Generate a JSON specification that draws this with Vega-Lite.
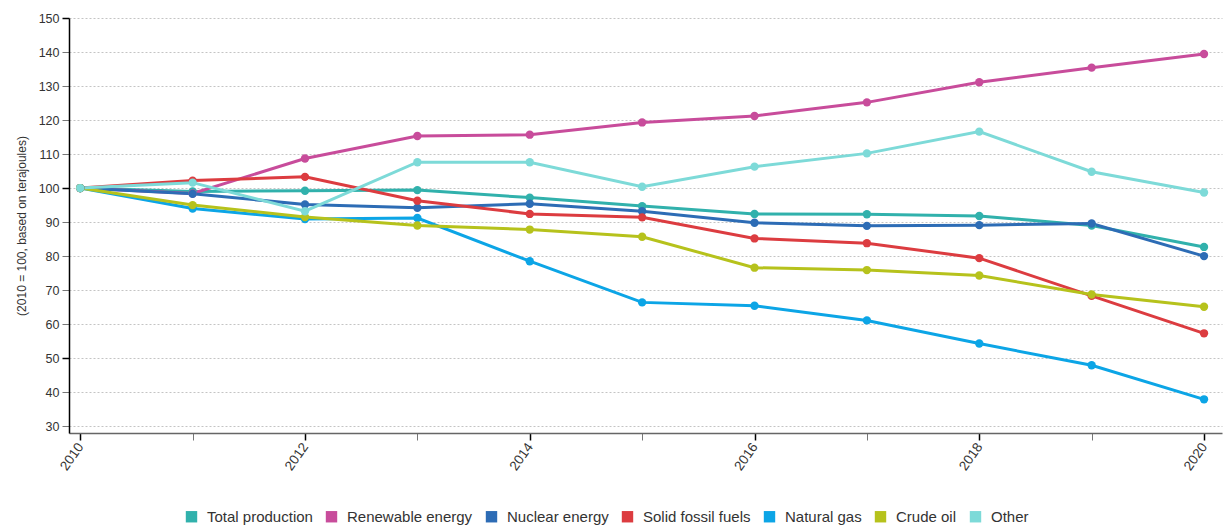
{
  "$schema": "https://vega.github.io/schema/vega-lite/v6.json",
  "width": 1153,
  "height": 415,
  "autosize": {"type": "none"},
  "padding": {"left": 69, "top": 18, "right": 3, "bottom": 94},
  "background": "white",
  "config": {
    "font": "Liberation Sans",
    "view": {"stroke": null}
  },
  "data": {
    "values": [
      {"year": 2010, "series": "Total production", "value": 100},
      {"year": 2011, "series": "Total production", "value": 99.0},
      {"year": 2012, "series": "Total production", "value": 99.2},
      {"year": 2013, "series": "Total production", "value": 99.4},
      {"year": 2014, "series": "Total production", "value": 97.2},
      {"year": 2015, "series": "Total production", "value": 94.7},
      {"year": 2016, "series": "Total production", "value": 92.4},
      {"year": 2017, "series": "Total production", "value": 92.3},
      {"year": 2018, "series": "Total production", "value": 91.8},
      {"year": 2019, "series": "Total production", "value": 89.0},
      {"year": 2020, "series": "Total production", "value": 82.7},

      {"year": 2010, "series": "Renewable energy", "value": 100},
      {"year": 2011, "series": "Renewable energy", "value": 98.4},
      {"year": 2012, "series": "Renewable energy", "value": 108.7},
      {"year": 2013, "series": "Renewable energy", "value": 115.3},
      {"year": 2014, "series": "Renewable energy", "value": 115.7},
      {"year": 2015, "series": "Renewable energy", "value": 119.3},
      {"year": 2016, "series": "Renewable energy", "value": 121.2},
      {"year": 2017, "series": "Renewable energy", "value": 125.2},
      {"year": 2018, "series": "Renewable energy", "value": 131.1},
      {"year": 2019, "series": "Renewable energy", "value": 135.4},
      {"year": 2020, "series": "Renewable energy", "value": 139.4},

      {"year": 2010, "series": "Nuclear energy", "value": 100},
      {"year": 2011, "series": "Nuclear energy", "value": 98.3},
      {"year": 2012, "series": "Nuclear energy", "value": 95.2},
      {"year": 2013, "series": "Nuclear energy", "value": 94.2},
      {"year": 2014, "series": "Nuclear energy", "value": 95.4},
      {"year": 2015, "series": "Nuclear energy", "value": 93.2},
      {"year": 2016, "series": "Nuclear energy", "value": 89.8},
      {"year": 2017, "series": "Nuclear energy", "value": 88.9},
      {"year": 2018, "series": "Nuclear energy", "value": 89.1},
      {"year": 2019, "series": "Nuclear energy", "value": 89.6},
      {"year": 2020, "series": "Nuclear energy", "value": 80.0},

      {"year": 2010, "series": "Solid fossil fuels", "value": 100},
      {"year": 2011, "series": "Solid fossil fuels", "value": 102.2},
      {"year": 2012, "series": "Solid fossil fuels", "value": 103.3},
      {"year": 2013, "series": "Solid fossil fuels", "value": 96.3},
      {"year": 2014, "series": "Solid fossil fuels", "value": 92.4},
      {"year": 2015, "series": "Solid fossil fuels", "value": 91.4},
      {"year": 2016, "series": "Solid fossil fuels", "value": 85.2},
      {"year": 2017, "series": "Solid fossil fuels", "value": 83.8},
      {"year": 2018, "series": "Solid fossil fuels", "value": 79.4},
      {"year": 2019, "series": "Solid fossil fuels", "value": 68.3},
      {"year": 2020, "series": "Solid fossil fuels", "value": 57.3},

      {"year": 2010, "series": "Natural gas", "value": 100},
      {"year": 2011, "series": "Natural gas", "value": 94.0},
      {"year": 2012, "series": "Natural gas", "value": 90.9},
      {"year": 2013, "series": "Natural gas", "value": 91.2},
      {"year": 2014, "series": "Natural gas", "value": 78.5},
      {"year": 2015, "series": "Natural gas", "value": 66.4},
      {"year": 2016, "series": "Natural gas", "value": 65.4},
      {"year": 2017, "series": "Natural gas", "value": 61.1},
      {"year": 2018, "series": "Natural gas", "value": 54.3},
      {"year": 2019, "series": "Natural gas", "value": 47.9},
      {"year": 2020, "series": "Natural gas", "value": 37.9},

      {"year": 2010, "series": "Crude oil", "value": 100},
      {"year": 2011, "series": "Crude oil", "value": 95.0},
      {"year": 2012, "series": "Crude oil", "value": 91.5},
      {"year": 2013, "series": "Crude oil", "value": 89.0},
      {"year": 2014, "series": "Crude oil", "value": 87.8},
      {"year": 2015, "series": "Crude oil", "value": 85.7},
      {"year": 2016, "series": "Crude oil", "value": 76.6},
      {"year": 2017, "series": "Crude oil", "value": 75.9},
      {"year": 2018, "series": "Crude oil", "value": 74.3},
      {"year": 2019, "series": "Crude oil", "value": 68.7},
      {"year": 2020, "series": "Crude oil", "value": 65.1},

      {"year": 2010, "series": "Other", "value": 100},
      {"year": 2011, "series": "Other", "value": 101.6},
      {"year": 2012, "series": "Other", "value": 93.2},
      {"year": 2013, "series": "Other", "value": 107.6},
      {"year": 2014, "series": "Other", "value": 107.6},
      {"year": 2015, "series": "Other", "value": 100.4},
      {"year": 2016, "series": "Other", "value": 106.3},
      {"year": 2017, "series": "Other", "value": 110.2},
      {"year": 2018, "series": "Other", "value": 116.6},
      {"year": 2019, "series": "Other", "value": 104.8},
      {"year": 2020, "series": "Other", "value": 98.7}
    ]
  },
  "encoding": {
    "x": {
      "field": "year",
      "type": "quantitative",
      "scale": {"domain": [2009.9, 2020.16], "nice": false, "zero": false},
      "axis": {
        "title": null,
        "values": [2010, 2011, 2012, 2013, 2014, 2015, 2016, 2017, 2018, 2019, 2020],
        "labelExpr": "datum.value % 2 === 0 ? datum.value : ''",
        "labelAngle": -55,
        "labelAlign": "right",
        "labelBaseline": "middle",
        "labelFontSize": 13.5,
        "labelColor": "#333333",
        "labelPadding": 4,
        "grid": false,
        "domainColor": "#666666",
        "domainWidth": 1.5,
        "tickSize": 7,
        "tickColor": {"condition": {"test": "datum.value % 2 === 0", "value": "#000000"}, "value": "#777777"},
        "tickWidth": {"condition": {"test": "datum.value % 2 === 0", "value": 1.5}, "value": 1}
      }
    },
    "y": {
      "field": "value",
      "type": "quantitative",
      "scale": {"domain": [28, 150], "nice": false, "zero": false},
      "axis": {
        "title": "(2010 = 100, based on terajoules)",
        "titleFontSize": 12,
        "titleFontWeight": "normal",
        "titleColor": "#333333",
        "titlePadding": 10,
        "values": [30, 40, 50, 60, 70, 80, 90, 100, 110, 120, 130, 140, 150],
        "labelFontSize": 12.5,
        "labelColor": "#333333",
        "labelPadding": 3,
        "domainColor": "#000000",
        "domainWidth": 1.5,
        "tickSize": 7,
        "tickColor": {"condition": {"test": "datum.value % 50 === 0", "value": "#000000"}, "value": "#777777"},
        "tickWidth": {"condition": {"test": "datum.value % 50 === 0", "value": 1.5}, "value": 1},
        "grid": true,
        "gridColor": "#c4c4c4",
        "gridDash": [2, 2],
        "gridWidth": 1
      }
    },
    "color": {
      "field": "series",
      "type": "nominal",
      "scale": {
        "domain": ["Total production", "Renewable energy", "Nuclear energy", "Solid fossil fuels", "Natural gas", "Crude oil", "Other"],
        "range": ["#31b1ac", "#c84c9b", "#2d6cb5", "#dc3c40", "#0ca5e6", "#b6c21c", "#7ddad8"]
      },
      "legend": {
        "title": null,
        "orient": "none",
        "direction": "horizontal",
        "legendX": 115,
        "legendY": 491,
        "symbolType": "square",
        "symbolSize": 130,
        "symbolStrokeWidth": 0,
        "labelFontSize": 15,
        "labelColor": "#333333",
        "labelOffset": 8,
        "columnPadding": 11
      }
    }
  },
  "layer": [
    {"mark": {"type": "line", "strokeWidth": 3}},
    {"mark": {"type": "point", "filled": true, "size": 70, "opacity": 1}}
  ]
}
